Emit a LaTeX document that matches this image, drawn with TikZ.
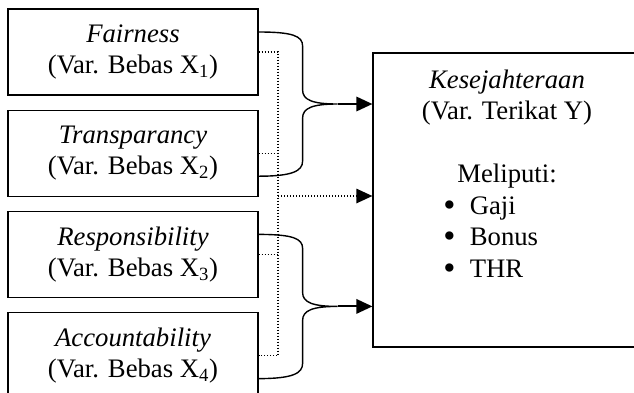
\documentclass[tikz,border=0pt]{standalone}
\usepackage{fontspec}
\usepackage{graphicx}
\setmainfont{Liberation Serif}
\usetikzlibrary{positioning, arrows.meta}
\tikzset{varbox/.style={
        draw,
        rectangle,
        line width=0.3mm,
        minimum width=62.5mm,
        minimum height=21.5mm,
        inner sep=0pt,
        align=center
}}
\tikzset{mainbox/.style={
        draw,
        rectangle,
        line width=0.3mm,
        minimum width=67mm,
        minimum height=73.5mm
}}
\tikzset{bracepath/.style={draw,line width=0.35mm}}
\tikzset{flowedge/.style={draw,line width=0.5mm,-{Triangle[length=4mm,width=3.6mm]}}}
\tikzset{dotline/.style={draw,line width=0.3mm,dash pattern=on 0.35mm off 0.4mm}}
\tikzset{dotedge/.style={dotline,line width=0.4mm,-{Triangle[length=4mm,width=3.6mm]}}}
\newcommand{\bigbullet}{\smash{\raisebox{-0.08em}{\scalebox{1.3}{\textbullet}}}}

\begin{document}
\begin{tikzpicture}[x=0.25mm,y=0.25mm,node distance=3.5mm,every node/.style={font=\fontsize{19pt}{22.5pt}\selectfont}]
\useasboundingbox (0,0) rectangle (634,-392);
\clip (0,0) rectangle (634,-392);

\node[varbox] (fair) at (133,-52) {\textit{Fairness}\\(Var. Bebas X\textsubscript{1})};
\node[varbox, below=of fair] (trans) {\textit{Transparancy}\\(Var. Bebas X\textsubscript{2})};
\node[varbox, below=of trans] (resp) {\textit{Responsibility}\\(Var. Bebas X\textsubscript{3})};
\node[varbox, below=of resp] (acc) {\textit{Accountability}\\(Var. Bebas X\textsubscript{4})};
\node[mainbox] (kes) at (507,-200) {};
\node[anchor=base, inner sep=0pt] (kestitle) at (507,-88)
    {\begin{tabular}[t]{@{}c@{}}\textit{Kesejahteraan}\\(Var. Terikat Y)\\ \\Meliputi:\end{tabular}};
\node[anchor=base west, inner sep=0pt] (keslist) at (443,-214)
    {\begin{tabular}[t]{@{}l@{\hspace{3.6mm}}l@{}}\bigbullet & Gaji\\ \bigbullet & Bonus\\ \bigbullet & THR\end{tabular}};

% braces
\draw[bracepath] ([yshift=5mm]fair.east) .. controls +(34,0) and +(0,10) .. ++(44,-14) -- ++(0,-44)
    .. controls +(0,-10) and +(-25,0) .. ++(35,-14) coordinate (tip1)
    .. controls +(-25,0) and +(0,10) .. ++(-35,-14) -- ++(0,-43)
    .. controls +(0,-10) and +(34,0) .. ([yshift=-5.75mm]trans.east);
\draw[bracepath] ([yshift=5mm]resp.east) .. controls +(34,0) and +(0,10) .. ++(44,-14) -- ++(0,-44)
    .. controls +(0,-10) and +(-25,0) .. ++(35,-14) coordinate (tip2)
    .. controls +(-25,0) and +(0,10) .. ++(-35,-14) -- ++(0,-43)
    .. controls +(0,-10) and +(34,0) .. ([yshift=-5.75mm]acc.east);
\draw[flowedge] (tip1) -- (tip1 -| kes.west);
\draw[flowedge] (tip2) -- (tip2 -| kes.west);

% dotted
\coordinate (dv) at (278,-196);
\draw[dotline] (fair.east) -| (acc.east -| dv) -- (acc.east);
\draw[dotline] (trans.east) -- (trans.east -| dv);
\draw[dotline] (resp.east) -- (resp.east -| dv);
\draw[dotedge] (dv) -- (dv -| kes.west);
\end{tikzpicture}
\end{document}
